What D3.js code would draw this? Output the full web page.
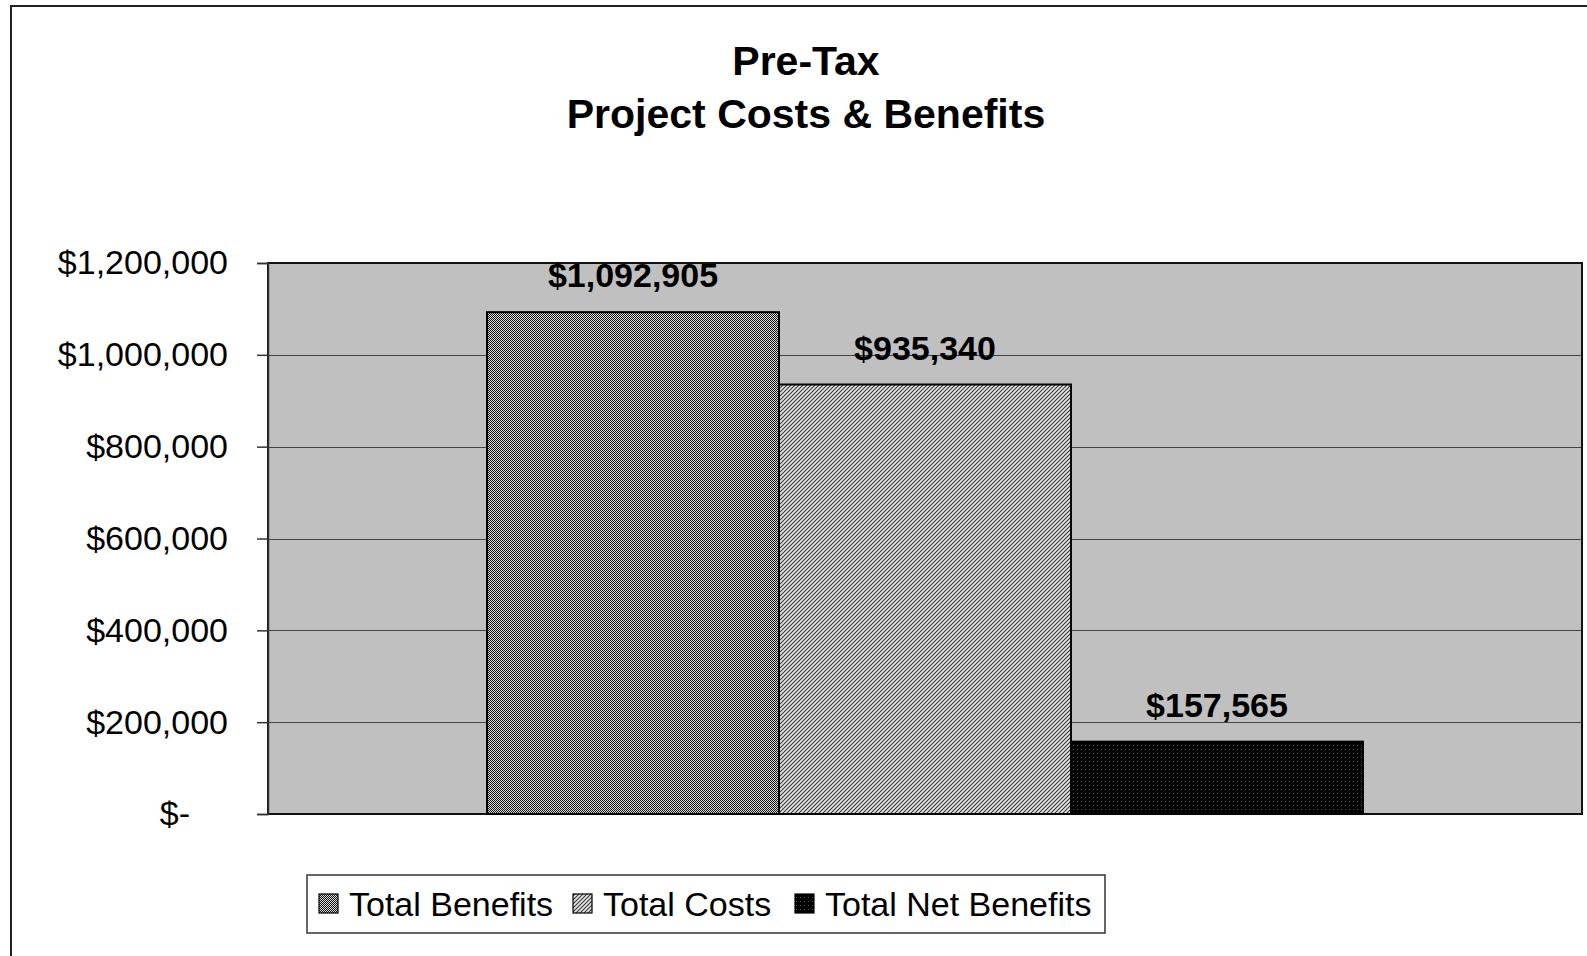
<!DOCTYPE html>
<html>
<head>
<meta charset="utf-8">
<script src="https://cdn.jsdelivr.net/npm/d3@7"></script>
<style>
  body { margin: 0; background: #fff; }
  svg { display: block; font-family: "Liberation Sans", Arial, sans-serif; }
</style>
</head>
<body>
<div id="chart"></div>
<script>
const width = 1587;
const height = 956;

// data
const series = ["Total Benefits", "Total Costs", "Total Net Benefits"];
const values = [1092905, 935340, 157565];
const yTicks = [0, 200000, 400000, 600000, 800000, 1000000, 1200000];
const titleLines = ["Pre-Tax", "Project Costs & Benefits"];

const plot = { left: 268, right: 1582, top: 263, bottom: 814 };

const svg = d3.select("#chart")
  .append("svg")
  .attr("width", width)
  .attr("height", height);

// fill patterns roughly like the old excel ones
const defs = svg.append("defs");

const p1 = defs.append("pattern").attr("id", "pat0")
  .attr("width", 2).attr("height", 2).attr("patternUnits", "userSpaceOnUse");
p1.append("rect").attr("width", 2).attr("height", 2).attr("fill", "#e0e0e0");
p1.append("rect").attr("width", 1).attr("height", 1).attr("fill", "#111");
p1.append("rect").attr("x", 1).attr("y", 1).attr("width", 1).attr("height", 1).attr("fill", "#111");

const p2 = defs.append("pattern").attr("id", "pat1")
  .attr("width", 4).attr("height", 4).attr("patternUnits", "userSpaceOnUse");
p2.append("rect").attr("width", 4).attr("height", 4).attr("fill", "#e8e8e8");
p2.append("path").attr("d", "M0,4 L4,0 M-1,1 L1,-1 M3,5 L5,3")
  .attr("stroke", "#333").attr("stroke-width", 1.1);

const p3 = defs.append("pattern").attr("id", "pat2")
  .attr("width", 4).attr("height", 4).attr("patternUnits", "userSpaceOnUse");
p3.append("rect").attr("width", 4).attr("height", 4).attr("fill", "#000");
p3.append("rect").attr("x", 1).attr("y", 1).attr("width", 1).attr("height", 1).attr("fill", "#555");

// outer frame
svg.append("rect")
  .attr("x", 11).attr("y", 6)
  .attr("width", 1600).attr("height", 1000)
  .attr("fill", "#fff")
  .attr("stroke", "#222")
  .attr("stroke-width", 2);

// title
svg.append("g").selectAll("text")
  .data(titleLines)
  .enter()
  .append("text")
  .attr("x", 806)
  .attr("y", (d, i) => 75 + i * 53)
  .attr("text-anchor", "middle")
  .attr("font-size", 41)
  .attr("font-weight", "bold")
  .text(d => d);

const x = d3.scaleBand()
  .domain(series)
  .range([plot.left, plot.right])
  .paddingInner(0)
  .paddingOuter(0.75);

const y = d3.scaleLinear()
  .domain([0, 1200000])
  .range([plot.bottom, plot.top]);

// plot area
svg.append("rect")
  .attr("x", plot.left).attr("y", plot.top)
  .attr("width", plot.right - plot.left)
  .attr("height", plot.bottom - plot.top)
  .attr("fill", "#c0c0c0");

// gridlines
svg.append("g").selectAll("line")
  .data(yTicks.slice(1, -1))
  .enter()
  .append("line")
  .attr("x1", plot.left).attr("x2", plot.right)
  .attr("y1", d => Math.round(y(d)) + 0.5)
  .attr("y2", d => Math.round(y(d)) + 0.5)
  .attr("stroke", "#444")
  .attr("stroke-width", 1);

// plot border
svg.append("rect")
  .attr("x", plot.left).attr("y", plot.top)
  .attr("width", plot.right - plot.left)
  .attr("height", plot.bottom - plot.top)
  .attr("fill", "none")
  .attr("stroke", "#111")
  .attr("stroke-width", 2);

// y axis
const fmt = d3.format(",");
const yAxis = d3.axisLeft(y)
  .tickValues(yTicks)
  .tickSize(11)
  .tickPadding(29)
  .tickFormat(d => d === 0 ? "$-" : "$" + fmt(d));

const gy = svg.append("g")
  .attr("transform", `translate(${plot.left},0)`)
  .call(yAxis);
gy.select(".domain").attr("stroke", "#333").attr("stroke-width", 1.5);
gy.selectAll(".tick line").attr("stroke", "#333").attr("stroke-width", 1.5);
gy.selectAll(".tick text")
  .attr("font-size", 34)
  .attr("font-family", "'Liberation Sans', Arial, sans-serif")
  .attr("fill", "#000")
  .attr("dx", d => d === 0 ? -38 : 0);

// bars
svg.append("g").selectAll("rect")
  .data(series)
  .enter()
  .append("rect")
  .attr("x", d => x(d))
  .attr("y", (d, i) => y(values[i]))
  .attr("width", x.bandwidth())
  .attr("height", (d, i) => y(0) - y(values[i]))
  .attr("fill", (d, i) => `url(#pat${i})`)
  .attr("stroke", "#000")
  .attr("stroke-width", 2);

// value labels
svg.append("g").selectAll("text")
  .data(series)
  .enter()
  .append("text")
  .attr("x", d => x(d) + x.bandwidth() / 2)
  .attr("y", (d, i) => y(values[i]) - 25)
  .attr("text-anchor", "middle")
  .attr("font-size", 34)
  .attr("font-weight", "bold")
  .text((d, i) => "$" + fmt(values[i]));

// legend
const legend = svg.append("g");
legend.append("rect")
  .attr("x", 307).attr("y", 875)
  .attr("width", 798).attr("height", 58)
  .attr("fill", "#fff")
  .attr("stroke", "#333")
  .attr("stroke-width", 1.5);

const legendX = [319, 573, 795];
const items = legend.selectAll("g.item")
  .data(series)
  .enter()
  .append("g")
  .attr("class", "item")
  .attr("transform", (d, i) => `translate(${legendX[i]},904)`);

items.append("rect")
  .attr("x", 0).attr("y", -10)
  .attr("width", 19).attr("height", 19)
  .attr("fill", (d, i) => `url(#pat${i})`)
  .attr("stroke", "#000")
  .attr("stroke-width", 1.2);

items.append("text")
  .attr("x", 30)
  .attr("y", 12)
  .attr("font-size", 34)
  .text(d => d);
</script>
</body>
</html>
